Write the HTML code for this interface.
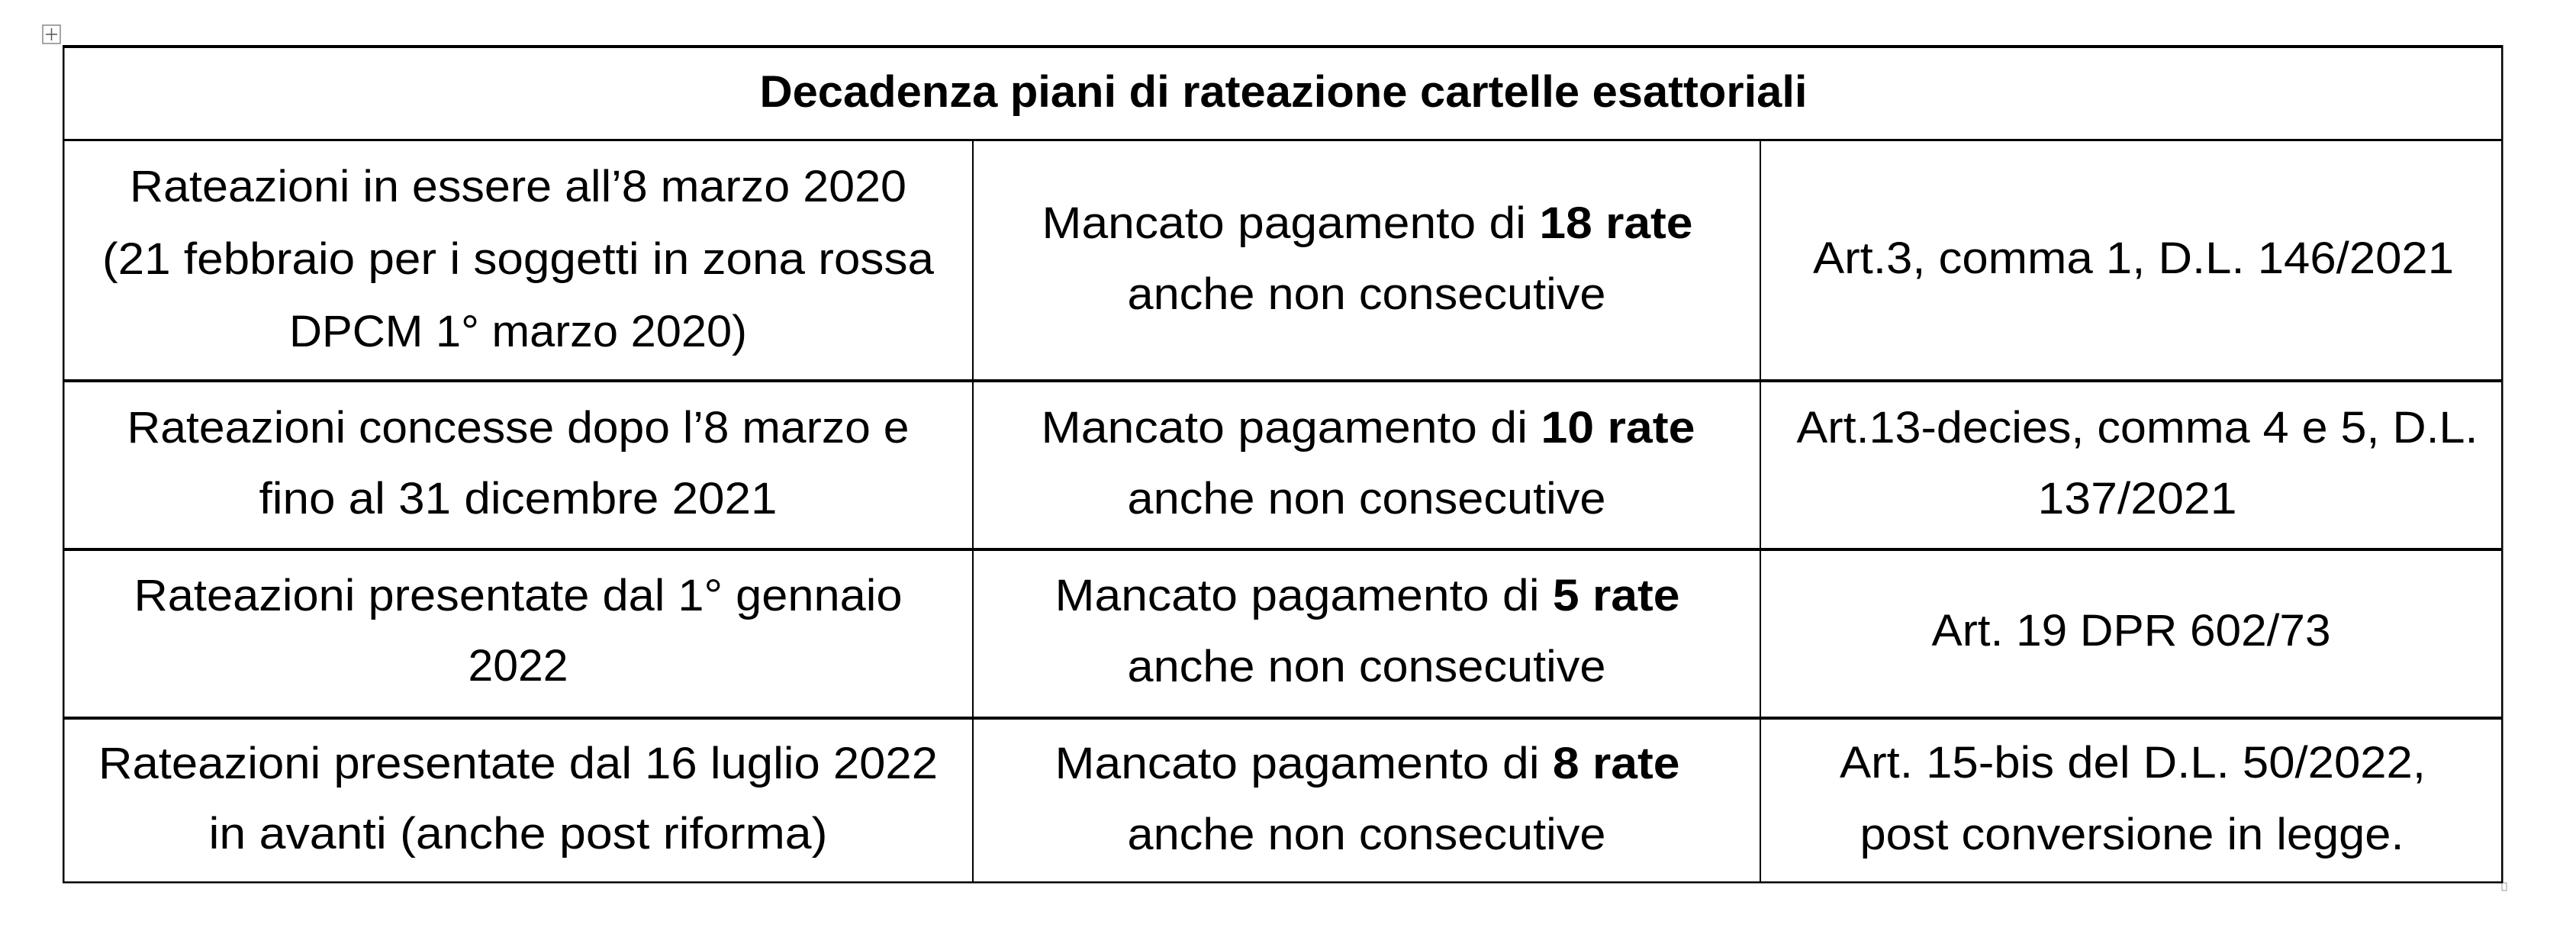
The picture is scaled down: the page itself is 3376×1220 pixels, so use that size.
<!DOCTYPE html>
<html><head><meta charset="utf-8"><style>
html,body{margin:0;padding:0;background:#fff;}
svg{display:block;}
text{font-family:"Liberation Sans",sans-serif;font-size:58px;fill:#000;}
</style></head><body>
<svg width="3376" height="1220" viewBox="0 0 3376 1220" xmlns="http://www.w3.org/2000/svg">
<rect x="56" y="33" width="23" height="24" fill="#fff" stroke="#888" stroke-width="1.5"/>
<path d="M67.5 37 V53 M60 45 H75" stroke="#555" stroke-width="1.5"/>
<rect x="3279" y="1157" width="6" height="10" fill="#fff" stroke="#999" stroke-width="1"/>
<!-- borders -->
<rect x="82" y="59" width="3198" height="4" fill="#000"/>
<rect x="82" y="182" width="3198" height="3" fill="#000"/>
<rect x="82" y="497" width="3198" height="4" fill="#000"/>
<rect x="82" y="718" width="3198" height="4" fill="#000"/>
<rect x="82" y="939" width="3198" height="4" fill="#000"/>
<rect x="82" y="1155" width="3198" height="2.5" fill="#000"/>
<rect x="82" y="59" width="2.5" height="1098" fill="#000"/>
<rect x="3278" y="59" width="2.5" height="1098" fill="#000"/>
<rect x="1274" y="183" width="2" height="974" fill="#000"/>
<rect x="2306" y="183" width="2" height="974" fill="#000"/>
<!-- title -->
<text x="1682" y="140" text-anchor="middle" font-weight="bold" textLength="1373" lengthAdjust="spacingAndGlyphs">Decadenza piani di rateazione cartelle esattoriali</text>
<!-- col 1 -->
<text x="679" y="264" text-anchor="middle" textLength="1018" lengthAdjust="spacingAndGlyphs">Rateazioni in essere all’8 marzo 2020</text>
<text x="679" y="359" text-anchor="middle" textLength="1090" lengthAdjust="spacingAndGlyphs">(21 febbraio per i soggetti in zona rossa</text>
<text x="679" y="454" text-anchor="middle" textLength="600" lengthAdjust="spacingAndGlyphs">DPCM 1° marzo 2020)</text>
<text x="679" y="580" text-anchor="middle" textLength="1025" lengthAdjust="spacingAndGlyphs">Rateazioni concesse dopo l’8 marzo e</text>
<text x="679" y="673" text-anchor="middle" textLength="679" lengthAdjust="spacingAndGlyphs">fino al 31 dicembre 2021</text>
<text x="679" y="800" text-anchor="middle" textLength="1007" lengthAdjust="spacingAndGlyphs">Rateazioni presentate dal 1° gennaio</text>
<text x="679" y="892" text-anchor="middle" textLength="131" lengthAdjust="spacingAndGlyphs">2022</text>
<text x="679" y="1020" text-anchor="middle" textLength="1100" lengthAdjust="spacingAndGlyphs">Rateazioni presentate dal 16 luglio 2022</text>
<text x="679" y="1112" text-anchor="middle" textLength="811" lengthAdjust="spacingAndGlyphs">in avanti (anche post riforma)</text>
<!-- col 2 -->
<text x="1792" y="312" text-anchor="middle" textLength="853" lengthAdjust="spacingAndGlyphs">Mancato pagamento di <tspan font-weight="bold">18 rate</tspan></text>
<text x="1791" y="405" text-anchor="middle" textLength="627" lengthAdjust="spacingAndGlyphs">anche non consecutive</text>
<text x="1793" y="580" text-anchor="middle" textLength="857" lengthAdjust="spacingAndGlyphs">Mancato pagamento di <tspan font-weight="bold">10 rate</tspan></text>
<text x="1791" y="673" text-anchor="middle" textLength="627" lengthAdjust="spacingAndGlyphs">anche non consecutive</text>
<text x="1792" y="800" text-anchor="middle" textLength="819" lengthAdjust="spacingAndGlyphs">Mancato pagamento di <tspan font-weight="bold">5 rate</tspan></text>
<text x="1791" y="893" text-anchor="middle" textLength="627" lengthAdjust="spacingAndGlyphs">anche non consecutive</text>
<text x="1792" y="1020" text-anchor="middle" textLength="819" lengthAdjust="spacingAndGlyphs">Mancato pagamento di <tspan font-weight="bold">8 rate</tspan></text>
<text x="1791" y="1113" text-anchor="middle" textLength="627" lengthAdjust="spacingAndGlyphs">anche non consecutive</text>
<!-- col 3 -->
<text x="2796" y="358" text-anchor="middle" textLength="840" lengthAdjust="spacingAndGlyphs">Art.3, comma 1, D.L. 146/2021</text>
<text x="2801" y="580" text-anchor="middle" textLength="893" lengthAdjust="spacingAndGlyphs">Art.13-decies, comma 4 e 5, D.L.</text>
<text x="2801" y="673" text-anchor="middle" textLength="261" lengthAdjust="spacingAndGlyphs">137/2021</text>
<text x="2793" y="846" text-anchor="middle" textLength="523" lengthAdjust="spacingAndGlyphs">Art. 19 DPR 602/73</text>
<text x="2795" y="1019" text-anchor="middle" textLength="768" lengthAdjust="spacingAndGlyphs">Art. 15-bis del D.L. 50/2022,</text>
<text x="2794" y="1113" text-anchor="middle" textLength="713" lengthAdjust="spacingAndGlyphs">post conversione in legge.</text>
</svg>
</body></html>
